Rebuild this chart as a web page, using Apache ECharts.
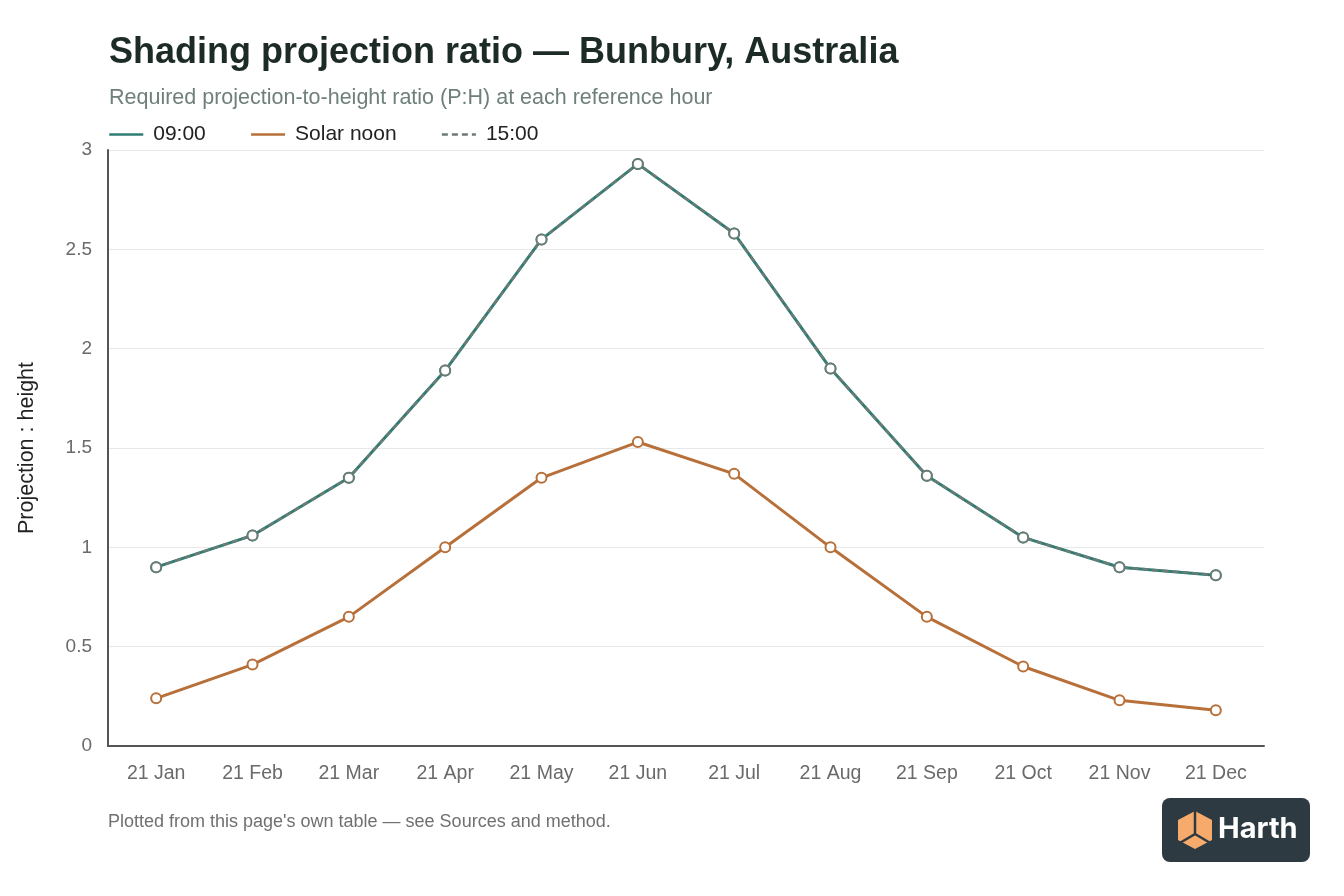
<!DOCTYPE html>
<html>
<head>
<meta charset="utf-8">
<script src="https://cdn.jsdelivr.net/npm/echarts@6/dist/echarts.min.js"></script>
<style>
  html, body { margin: 0; padding: 0; background: #fff; }
  #main { width: 1344px; height: 896px; }
</style>
</head>
<body>
<div id="main"></div>
<script>
// months on the x axis
const months = ['21 Jan', '21 Feb', '21 Mar', '21 Apr', '21 May', '21 Jun',
                '21 Jul', '21 Aug', '21 Sep', '21 Oct', '21 Nov', '21 Dec'];
// projection : height ratios
const morning = [0.90, 1.06, 1.35, 1.89, 2.55, 2.93, 2.58, 1.90, 1.36, 1.05, 0.90, 0.86];
const noon    = [0.24, 0.41, 0.65, 1.00, 1.35, 1.53, 1.37, 1.00, 0.65, 0.40, 0.23, 0.18];
const afternoon = [0.90, 1.06, 1.35, 1.89, 2.55, 2.93, 2.58, 1.90, 1.36, 1.05, 0.90, 0.86];

const FONT = '"Liberation Sans", Arial, sans-serif';
const teal = '#2f7d72';
const orange = '#b8703a';
const grey = '#6b7b76';

var chart = echarts.init(document.getElementById('main'));

var opt = {
  backgroundColor: '#fff',
  animation: false,
  textStyle: { fontFamily: FONT },
  title: {
    text: 'Shading projection ratio — Bunbury, Australia',
    subtext: 'Required projection-to-height ratio (P:H) at each reference hour',
    left: 104,
    top: 30,
    itemGap: 16,
    textStyle: { fontSize: 36, fontWeight: 'bold', color: '#1d2b27', fontFamily: FONT },
    subtextStyle: { fontSize: 21.5, color: '#6f807a', fontFamily: FONT }
  },
  legend: {
    left: 103,
    top: 119,
    itemWidth: 34,
    itemHeight: 22,
    itemGap: 44,
    itemStyle: { opacity: 0 },
    lineStyle: { width: 2.5 },
    textStyle: { fontSize: 21, color: '#222', fontFamily: FONT, padding: [0, 0, 0, 5] },
    data: ['09:00', 'Solar noon', '15:00']
  },
  grid: { left: 108, right: 80, top: 150, bottom: 150 },
  xAxis: {
    type: 'category',
    data: months,
    boundaryGap: true,
    axisLine: { lineStyle: { color: '#555', width: 2 } },
    axisTick: { show: false },
    axisLabel: { fontSize: 19.5, color: '#6a6a6a', margin: 18 }
  },
  yAxis: {
    type: 'value',
    min: 0,
    max: 3,
    interval: 0.5,
    name: 'Projection : height',
    nameLocation: 'middle',
    nameGap: 70,
    nameTextStyle: { fontSize: 21.5, color: '#222' },
    axisLine: { show: true, lineStyle: { color: '#555', width: 2 } },
    axisTick: { show: false },
    axisLabel: { fontSize: 19, color: '#6a6a6a', margin: 16 },
    splitLine: { lineStyle: { color: '#e6e9e8', width: 1 } }
  },
  series: [
    {
      name: '09:00', type: 'line', data: morning,
      symbol: 'emptyCircle', symbolSize: 10,
      lineStyle: { color: teal, width: 3 },
      itemStyle: { color: teal, borderWidth: 2 }
    },
    {
      name: 'Solar noon', type: 'line', data: noon,
      symbol: 'emptyCircle', symbolSize: 10,
      lineStyle: { color: orange, width: 3 },
      itemStyle: { color: orange, borderWidth: 2 }
    },
    {
      name: '15:00', type: 'line', data: afternoon,
      symbol: 'emptyCircle', symbolSize: 10,
      lineStyle: { color: grey, width: 2.5, type: [6, 4] },
      itemStyle: { color: grey, borderWidth: 2 }
    }
  ],
  graphic: [
    {
      type: 'text', left: 108, top: 813,
      style: { text: "Plotted from this page's own table — see Sources and method.",
               fontSize: 18, fill: '#707070', fontFamily: FONT }
    },
    {
      type: 'group', left: 1162, top: 798,
      children: [
        { type: 'rect', shape: { x: 0, y: 0, width: 148, height: 64, r: 8 },
          style: { fill: '#2e3a42' } },
        { type: 'polygon',
          shape: { points: [[33, 13], [50, 22], [50, 42], [33, 51], [16, 42], [16, 22]] },
          style: { fill: '#f6ab6c' } },
        { type: 'polyline',
          shape: { points: [[33, 13], [33, 36], [16, 46]] },
          style: { stroke: '#2e3a42', lineWidth: 2.5, fill: null } },
        { type: 'polyline',
          shape: { points: [[33, 36], [50, 46]] },
          style: { stroke: '#2e3a42', lineWidth: 2.5, fill: null } },
        { type: 'text', x: 56, y: 17,
          style: { text: 'Harth', fontSize: 29, fontWeight: 700, fill: '#ffffff',
                   fontFamily: 'Inter, "Noto Sans", sans-serif' } }
      ]
    }
  ]
};

chart.setOption(opt);
</script>
</body>
</html>
